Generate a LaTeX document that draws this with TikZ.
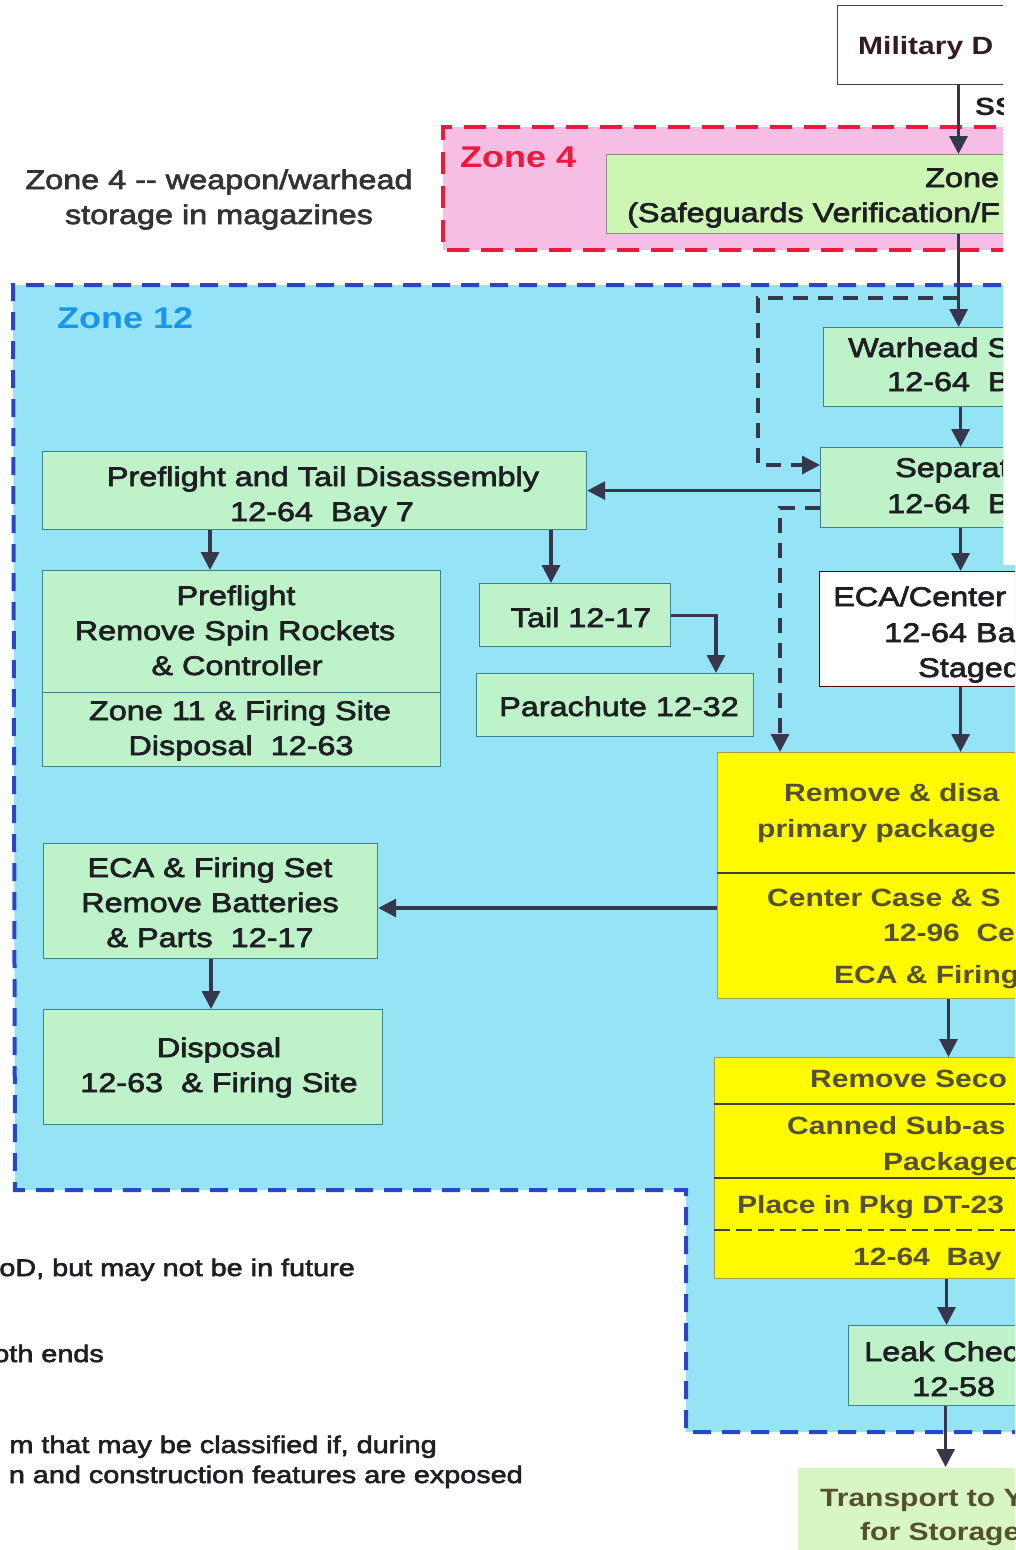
\documentclass[tikz,border=0pt]{standalone}
\usepackage{fontspec}
\setmainfont{Liberation Sans}[FakeStretch=1.2]
\newfontfamily\regf{Liberation Sans}[FakeStretch=1.2, FakeBold=2.5]
\usetikzlibrary{arrows.meta}
\definecolor{zblue}{RGB}{148,228,246}
\definecolor{bluedash}{RGB}{40,70,200}
\definecolor{pinkfill}{RGB}{246,190,228}
\definecolor{reddash}{RGB}{235,25,60}
\definecolor{gfill}{RGB}{190,242,200}
\definecolor{gfilltwo}{RGB}{205,245,180}
\definecolor{trfill}{RGB}{215,246,195}
\definecolor{boxline}{RGB}{60,130,140}
\definecolor{ink}{RGB}{30,30,35}
\definecolor{yink}{RGB}{85,80,45}
\definecolor{arrowc}{RGB}{55,55,75}
\definecolor{zcyan}{RGB}{25,150,235}
\definecolor{yfill}{RGB}{255,250,0}
\tikzset{
  gbox/.style={rectangle, draw=boxline, line width=1.2pt, fill=gfill, inner sep=0pt, anchor=north west},
  wbox/.style={gbox, draw=black!75, fill=white},
  ybox/.style={gbox, draw=yellow!60!black, line width=1pt, fill=yfill},
  txt/.style={anchor=base, inner sep=0pt, font=\regf\fontsize{27}{32}\selectfont, text=ink},
  txtl/.style={txt, anchor=base west},
  ytxt/.style={anchor=base west, inner sep=0pt, font=\fontsize{25}{30}\selectfont\bfseries, text=yink},
  lbl/.style={anchor=base east, inner sep=0pt, font=\regf\fontsize{24}{28}\selectfont, text=ink},
  arr/.style={draw=arrowc, line width=3.2pt, -{Triangle[length=18pt,width=18pt]}},
  darr/.style={arr, dash pattern=on 15pt off 10pt},
  divline/.style={draw=black!75, line width=2pt},
  bluezone/.style={draw=bluedash, line width=4pt, dash pattern=on 18pt off 11pt},
  redzone/.style={draw=reddash, line width=4pt, dash pattern=on 22pt off 12pt}
}
\begin{document}
\begin{tikzpicture}[x=1pt, y=-1pt]
\useasboundingbox (0,0) rectangle (1015,1550);
\fill[white] (0,0) rectangle (1015,1550);
\begin{scope}
\clip (0,0) -- (1003,0) -- (1003,565) -- (1015,565) -- (1015,1550) -- (0,1550) -- cycle;

% zones
\fill[pinkfill] (1030,127) -- (443,127) -- (443,250) -- (1030,250) -- cycle;
\draw[redzone] (1030,127) -- (443,127) -- (443,250) -- (1030,250);
\fill[zblue] (1030,285) -- (13,285) -- (15,1190) -- (686,1190) -- (686,1432) -- (1030,1432) -- cycle;
\draw[bluezone] (1030,285) -- (13,285) -- (15,1190) -- (686,1190) -- (686,1432) -- (1030,1432);

\node[anchor=base west, inner sep=0pt, font=\fontsize{30}{34}\selectfont\bfseries, text=reddash] (zfour) at (460,167) {Zone 4};
\node[anchor=base west, inner sep=0pt, font=\fontsize{30}{34}\selectfont\bfseries, text=zcyan] (ztwelve) at (57,328) {Zone 12};
\node[txt, text=black!80] (zlabA) at (219,189) {Zone 4 -{}- weapon/warhead};
\node[txt, text=black!80] (zlabB) at (219,224) {storage in magazines};

% helper coordinates
\coordinate (c465) at (0,465);
\coordinate (c508) at (0,508);
\coordinate (c908) at (0,908);
\coordinate (c873) at (0,873);
\coordinate (c1104) at (0,1104);
\coordinate (c1178) at (0,1178);
\coordinate (c1230) at (0,1230);
\coordinate (c210) at (210,0);
\coordinate (c211) at (211,0);
\coordinate (c551) at (551,0);
\coordinate (c716) at (716,0);
\coordinate (c780) at (780,0);
\coordinate (j1) at (958,298);

% right column boxes
\node[wbox, line width=1pt, minimum width=242, minimum height=79] (mil) at (837,5) {};
\node[ytxt, text=ink!90!red] (tmil) at (858,54) {Military D};
\node[ytxt, text=ink] (tss) at (975,115) {SS};

\node[gbox, fill=gfilltwo, draw=black!45, minimum width=704, minimum height=79] (zbox) at (606,154) {};
\node[txtl] (tzA) at (925,187) {Zone};
\node[txtl] (tzB) at (627,222) {(Safeguards Verification/F};

\node[gbox, minimum width=274, minimum height=79] (wh) at (823,327) {};
\node[txtl] (twA) at (848,357) {Warhead S};
\node[txtl] (twB) at (887,391) {12-64~~B};

\node[gbox, minimum width=280, minimum height=80] (sep) at (820,447) {};
\node[txtl] (tsA) at (895,477) {Separat};
\node[txtl] (tsB) at (887,513) {12-64~~B};

\node[wbox, draw=black!70!red, minimum width=282, minimum height=115] (ec) at (819,571) {};
\node[txtl] (teA) at (833,606) {ECA/Center};
\node[txtl] (teB) at (884,642) {12-64 Ba};
\node[txtl] (teC) at (918,677) {Staged};

\node[ybox, minimum width=462, minimum height=246] (y1) at (717,752) {};
\draw[divline] (y1.west |- c873) -- (y1.east |- c873);
\node[ytxt] (tyA) at (784,801) {Remove \& disa};
\node[ytxt] (tyB) at (757,837) {primary package};
\node[ytxt] (tyC) at (767,906) {Center Case \& S};
\node[ytxt] (tyD) at (883,941) {12-96~~Ce};
\node[ytxt] (tyE) at (834,983) {ECA \& Firing};

\node[ybox, minimum width=464, minimum height=221] (y2) at (714,1057) {};
\draw[divline] (y2.west |- c1104) -- (y2.east |- c1104);
\draw[divline] (y2.west |- c1178) -- (y2.east |- c1178);
\draw[divline, dash pattern=on 16pt off 6pt] (y2.west |- c1230) -- (y2.east |- c1230);
\node[ytxt] (tzyA) at (810,1087) {Remove Seco};
\node[ytxt] (tzyB) at (787,1134) {Canned Sub-as};
\node[ytxt] (tzyC) at (883,1170) {Packaged};
\node[ytxt] (tzyD) at (737,1213) {Place in Pkg DT-23};
\node[ytxt] (tzyE) at (853,1265) {12-64~~Bay};

\node[gbox, minimum width=194, minimum height=80] (lk) at (848,1325) {};
\node[txtl] (tlA) at (864,1361) {Leak Chec};
\node[txtl] (tlB) at (912,1396) {12-58};

\node[gbox, draw=none, fill=trfill, minimum width=294, minimum height=100] (tr) at (797,1467) {};
\node[ytxt] (ttA) at (820,1506) {Transport to Y};
\node[ytxt] (ttB) at (860,1540) {for Storage};

% left boxes
\node[gbox, minimum width=544, minimum height=78] (ptd) at (42,451) {};
\node[txt] (tpA) at (323,486) {Preflight and Tail Disassembly};
\node[txt] (tpB) at (322,521) {12-64~~Bay 7};

\node[gbox, minimum width=398, minimum height=122] (pa) at (42,570) {};
\node[gbox, minimum width=398, minimum height=74] (pb) at (42,692) {};
\node[txt] (tpaA) at (236,605) {Preflight};
\node[txt] (tpaB) at (235,640) {Remove Spin Rockets};
\node[txt] (tpaC) at (237,675) {\& Controller};
\node[txt] (tpbA) at (240,720) {Zone 11 \& Firing Site};
\node[txt] (tpbB) at (241,755) {Disposal~~12-63};

\node[gbox, minimum width=191, minimum height=63] (tail) at (479,583) {};
\node[txt] (ttail) at (581,627) {Tail 12-17};
\node[gbox, minimum width=277, minimum height=63] (para) at (476,673) {};
\node[txt] (tpara) at (619,716) {Parachute 12-32};

\node[gbox, minimum width=334, minimum height=115] (efs) at (43,843) {};
\node[txt] (tfA) at (210,877) {ECA \& Firing Set};
\node[txt] (tfB) at (210,912) {Remove Batteries};
\node[txt] (tfC) at (210,947) {\& Parts~~12-17};

\node[gbox, minimum width=339, minimum height=115] (disp) at (43,1009) {};
\node[txt] (tdA) at (219,1057) {Disposal};
\node[txt] (tdB) at (219,1092) {12-63~~\& Firing Site};

% bottom-left notes
\node[lbl] (nA) at (355,1276) {oD, but may not be in future};
\node[lbl] (nB) at (104,1362) {oth ends};
\node[lbl] (nC) at (437,1453) {m that may be classified if, during};
\node[lbl] (nD) at (523,1483) {n and construction features are exposed};

% connectors
\draw[arr] (mil.south) -- (mil.south |- zbox.north);
\draw[arr] (zbox.south) -- (zbox.south |- wh.north);
\draw[darr] (j1) -- (758,298) -- (758,465) -- (sep.west |- c465);
\draw[arr] (wh.south) -- (sep.north);
\draw[arr] (sep.west |- ptd.east) -- (ptd.east);
\draw[darr] (sep.west |- c508) -- (780,508) -- (c780 |- y1.north);
\draw[arr] (sep.south) -- (ec.north);
\draw[arr] (ec.south) -- (ec.south |- y1.north);
\draw[arr] (y1.west |- c908) -- (efs.east |- c908);
\draw[arr] (y1.south) -- (y1.south |- y2.north);
\draw[arr] (y2.south) -- (y2.south |- lk.north);
\draw[arr] (lk.south) -- (lk.south |- tr.north);
\draw[arr] (ptd.south -| c210) -- (pa.north -| c210);
\draw[arr] (ptd.south -| c551) -- (tail.north -| c551);
\draw[arr] (tail.east) -| (c716 |- para.north);
\draw[arr] (efs.south -| c211) -- (disp.north -| c211);
\end{scope}
\end{tikzpicture}
\end{document}
